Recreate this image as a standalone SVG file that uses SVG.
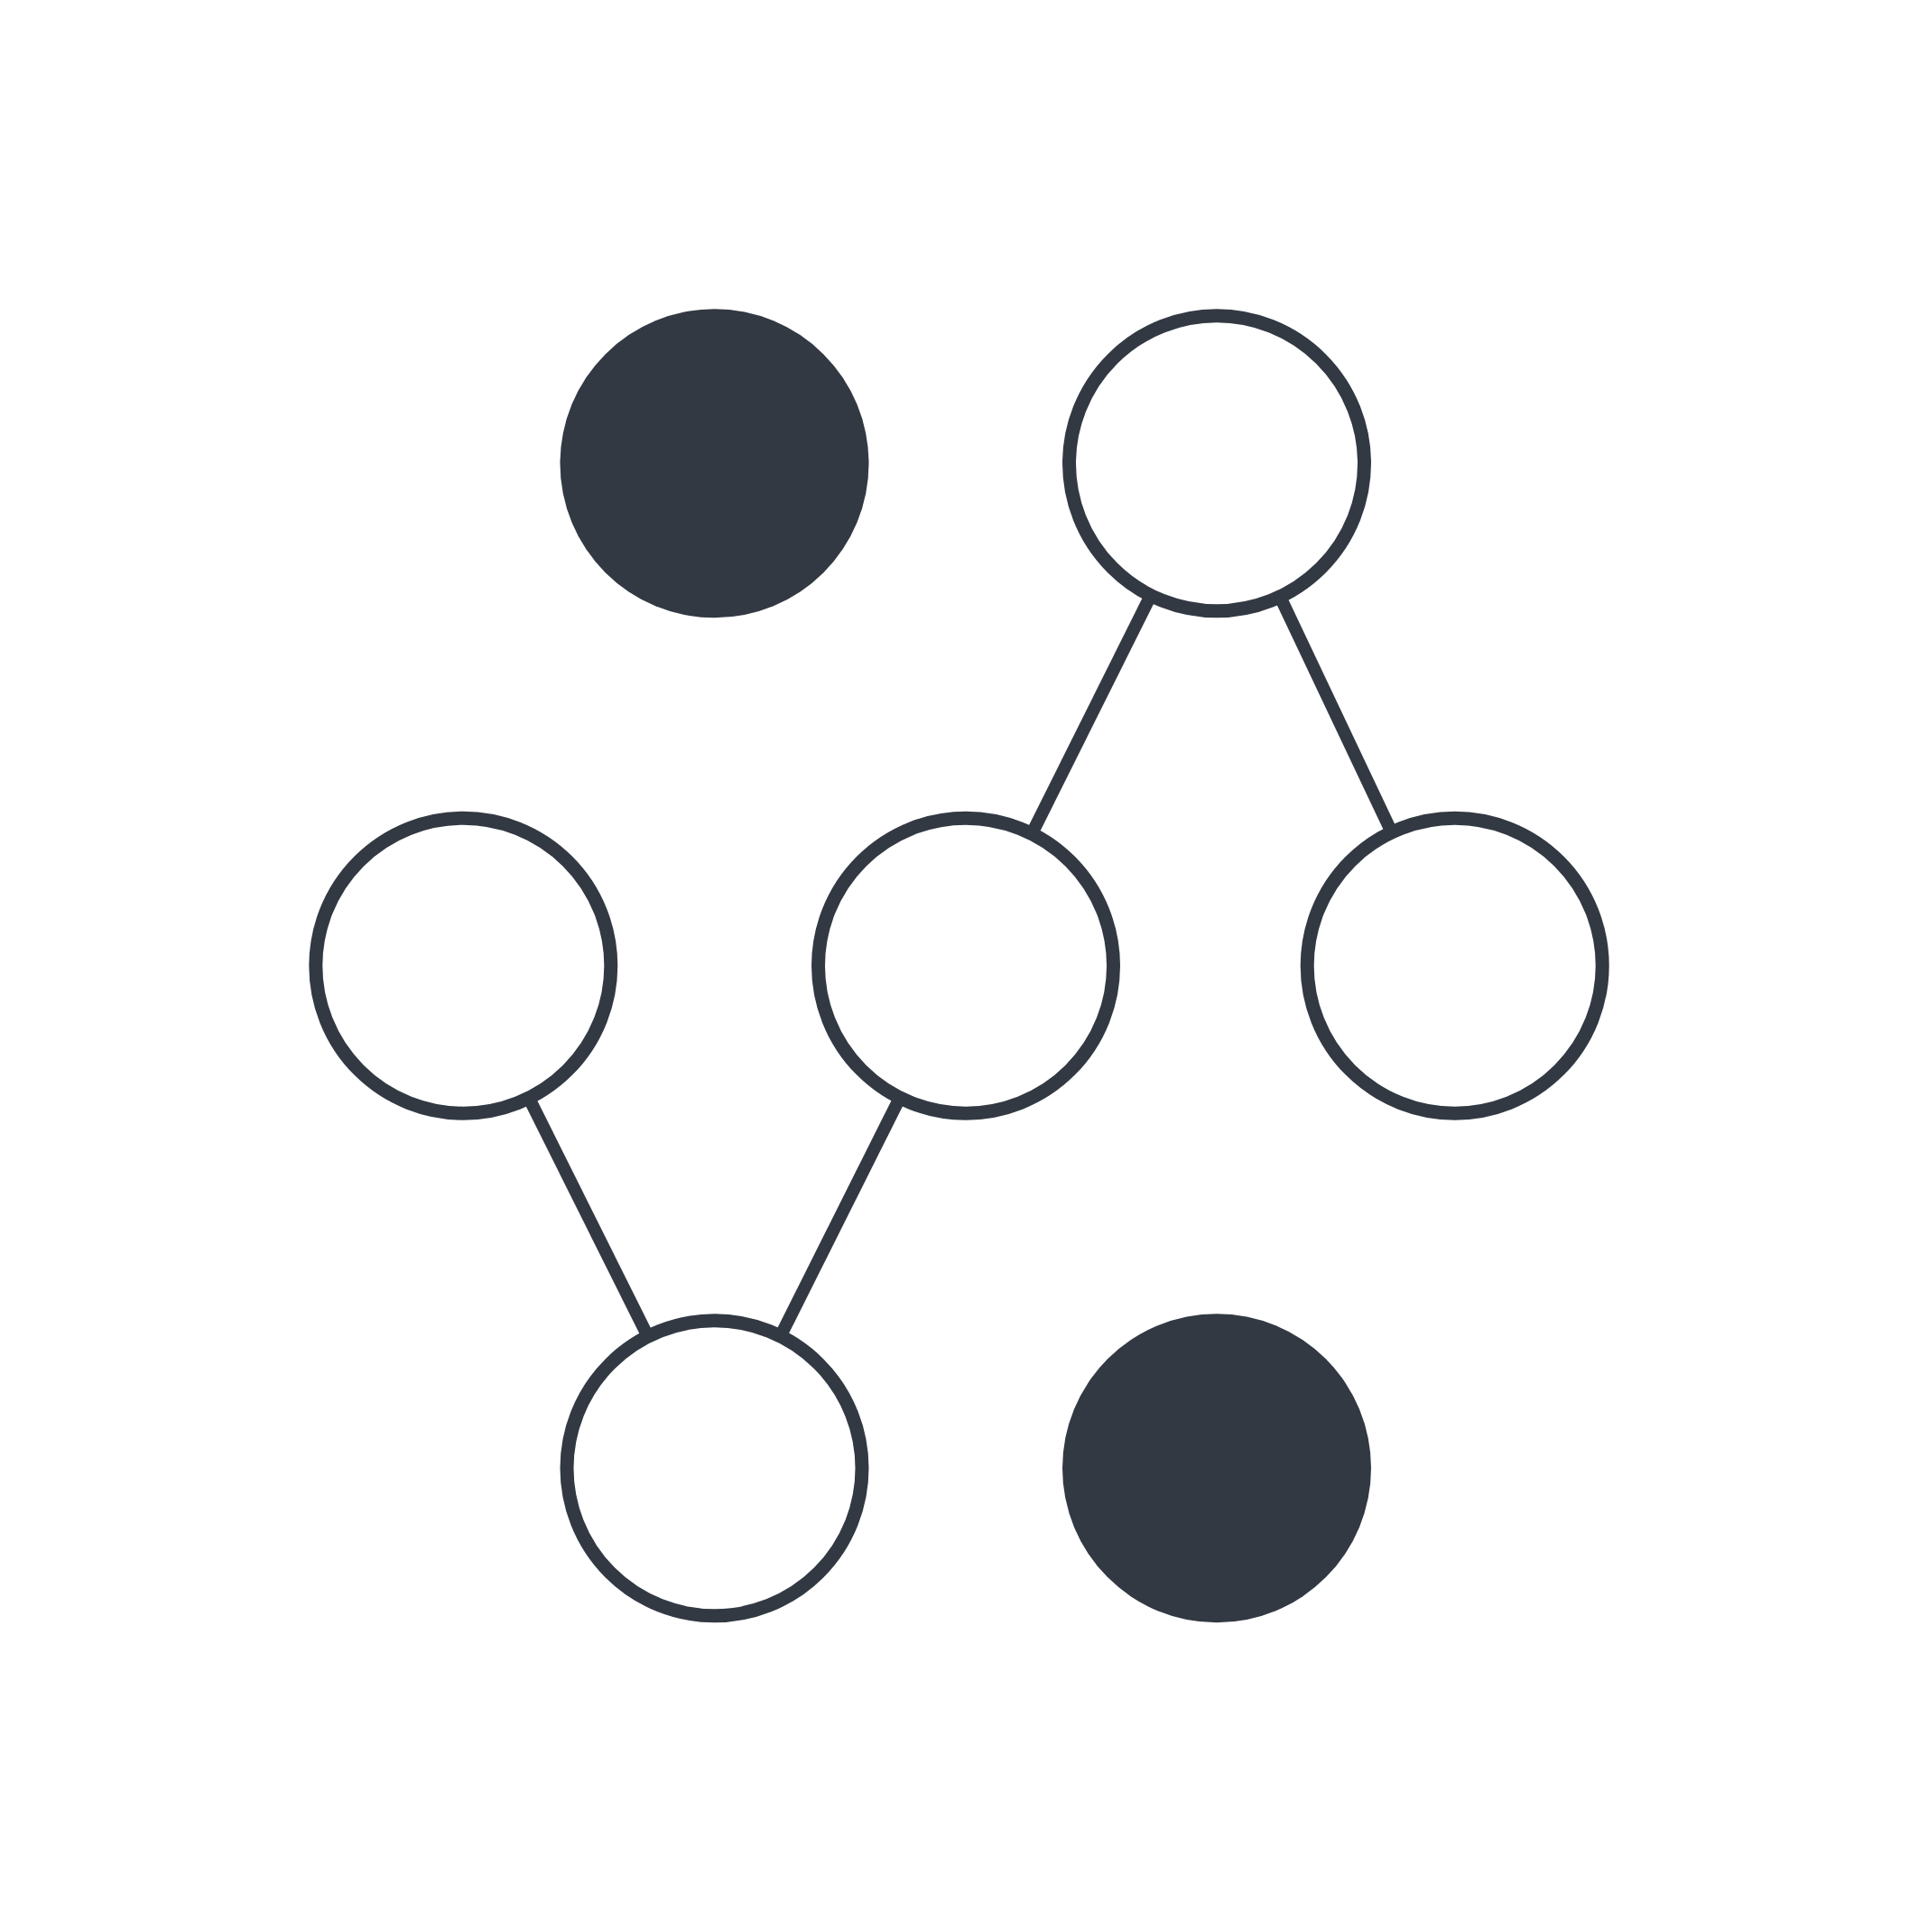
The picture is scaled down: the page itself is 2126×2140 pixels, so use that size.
<svg xmlns="http://www.w3.org/2000/svg" width="2126" height="2140" viewBox="0 0 2126 2140">
<style>
.edge{stroke:#323943;stroke-width:14;fill:none}
.open{fill:#ffffff;stroke:#323943;stroke-width:15}
.solid{fill:#323943;stroke:none}
</style>
<rect width="2126" height="2140" fill="#ffffff"/>
<g id="connectors">
<line class="edge" x1="1348" y1="513" x2="1070" y2="1070"/>
<line class="edge" x1="1348" y1="513" x2="1612" y2="1070"/>
<line class="edge" x1="513" y1="1070" x2="791" y2="1627"/>
<line class="edge" x1="1070" y1="1070" x2="791" y2="1627"/>
</g>
<g id="node-top-left"><circle class="solid" cx="791.5" cy="513.3" r="171"/></g>
<g id="node-top-right"><circle class="open" cx="1348" cy="513.3" r="163.5"/></g>
<g id="node-mid-left"><circle class="open" cx="513.3" cy="1069.7" r="163.5"/></g>
<g id="node-mid-center"><circle class="open" cx="1070" cy="1069.7" r="163.5"/></g>
<g id="node-mid-right"><circle class="open" cx="1611.7" cy="1069.7" r="163.5"/></g>
<g id="node-bottom-left"><circle class="open" cx="791.5" cy="1626.3" r="163.5"/></g>
<g id="node-bottom-right"><circle class="solid" cx="1348" cy="1626.2" r="171"/></g>
</svg>
